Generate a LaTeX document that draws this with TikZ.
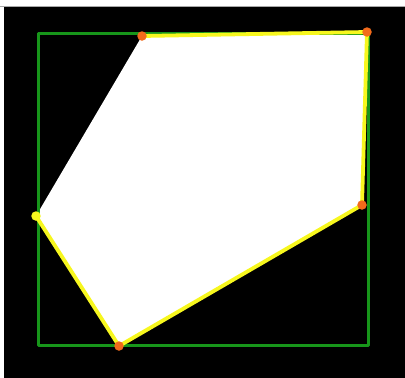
\documentclass[tikz,border=0pt]{standalone}
\usepackage{xcolor}
\usepackage{tikz}
\usetikzlibrary{positioning}
\definecolor{hgreen}{HTML}{17961A}
\definecolor{hyellow}{HTML}{F7F71E}
\definecolor{horange}{HTML}{F26A1B}
\definecolor{hgray}{HTML}{A8A8A8}

\tikzset{
  hullpt/.style={circle, fill=horange, inner sep=0pt, minimum size=9.5pt},
  startpt/.style={circle, fill=hyellow, inner sep=0pt, minimum size=9.5pt},
  hulledge/.style={hyellow, line width=3.8pt, line cap=round, line join=round},
  bbox/.style={hgreen, line width=3pt, line join=round}
}

\begin{document}
\begin{tikzpicture}[x=1pt, y=-1pt]

  %% Canvas
  \useasboundingbox (0,0) rectangle (405,378);
  \fill[white] (0,0) rectangle (405,378);
  \fill[black] (3.5,7) rectangle (405,378);
  \draw[hgray, line width=1pt] (0,6.5) -- (405,6.5);

  %% Hull vertices
  \coordinate (c1) at (142,36);
  \coordinate (c2) at (367,32);
  \coordinate (c3) at (362,205);
  \coordinate (c4) at (119,346);
  \coordinate (c5) at (36,216);

  %% Filled region
  \fill[white] (c1) -- (c2) -- (c3) -- (c4) -- (c5) -- cycle;

  %% Bounding rectangle
  \draw[bbox] (38,33) rectangle (368,345);

  %% Hull edges
  \draw[hulledge] (c1) -- (c2);
  \draw[hulledge] (c2) -- (c3);
  \draw[hulledge] (c3) -- (c4);
  \draw[hulledge] (c4) -- (c5);

  %% Vertex markers
  \node[hullpt] (p1) at (c1) {};
  \node[hullpt] (p2) at (c2) {};
  \node[hullpt] (p3) at (c3) {};
  \node[hullpt] (p4) at (c4) {};
  \node[startpt] (p5) at (c5) {};

\end{tikzpicture}
\end{document}
